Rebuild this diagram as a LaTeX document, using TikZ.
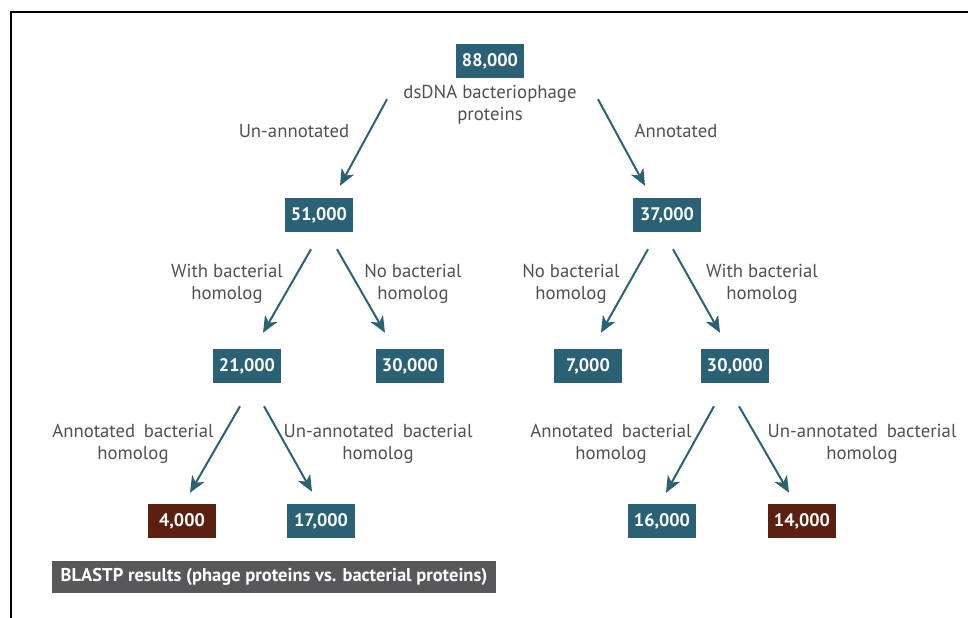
\documentclass[tikz,border=0pt]{standalone}
\usepackage{fontspec}
\setmainfont{PT Sans}
\usetikzlibrary{arrows.meta,calc}
\definecolor{teal}{HTML}{2B6174}
\definecolor{rust}{HTML}{5B200F}
\definecolor{slate}{HTML}{58585A}
\definecolor{ink}{HTML}{505052}
\newcommand{\gap}{\hspace{0.2em}}
\begin{document}
\begin{tikzpicture}[
  x=0.3mm, y=-0.3mm,
  font=\fontsize{16}{18.7}\selectfont,
  num/.style={fill=teal,text=white,minimum width=20.4mm,minimum height=10.2mm,
    inner sep=0pt,font=\fontsize{15.5}{18}\selectfont\bfseries},
  numred/.style={num,fill=rust},
  lbl/.style={text=ink,align=center,inner sep=0pt},
  legend/.style={fill=slate,text=white,minimum width=133.2mm,minimum height=9.6mm,
    inner sep=0pt,font=\fontsize{15.8}{18}\selectfont\bfseries},
  arr/.style={draw=teal,line width=1.7pt,
    -{Stealth[length=14pt,width=12pt,inset=4pt]}}]
\useasboundingbox (0,0) rectangle (968,618);
\draw[line width=0.9pt] (968,12) -- (11,12) -- (11,618);

\node[num] (n88) at (490,61) {88,000};
\node[lbl] (dsdna) at (490,105) {dsDNA bacteriophage\\proteins};

\node[num] (n51) at (319,215) {51,000};
\node[num] (n37) at (667,215) {37,000};

\node[num] (n21) at (247,366) {21,000};
\node[num] (n30a) at (410,366) {30,000};
\node[num] (n7) at (588,366) {7,000};
\node[num] (n30b) at (735,366) {30,000};

\node[numred] (n4) at (182,521) {4,000};
\node[num] (n17) at (321,521) {17,000};
\node[num] (n16) at (662,521) {16,000};
\node[numred] (n14) at (802,521) {14,000};

\node[lbl] (unann) at (294,131) {Un-annotated};
\node[lbl] (ann) at (676,131) {Annotated};
\node[lbl] (withl) at (227,284) {With bacterial\\homolog};
\node[lbl] (nol) at (413,284) {No bacterial\\homolog};
\node[lbl] (nor) at (571,284) {No bacterial\\homolog};
\node[lbl] (withr) at (762,284) {With bacterial\\homolog};
\node[lbl] (annl) at (133,444) {Annotated\gap{} bacterial\\homolog};
\node[lbl] (unannl) at (378,444) {Un-annotated\gap{} bacterial\\homolog};
\node[lbl] (annr) at (611,444) {Annotated\gap{} bacterial\\homolog};
\node[lbl] (unannr) at (862,444) {Un-annotated\gap{} bacterial\\homolog};

\node[legend] (key) at (274,577) {BLASTP results (phage proteins vs. bacterial proteins)};

\draw[arr] ($(n88.south)+(-103,21)$) -- ($(n51.north)+(21,-12)$);
\draw[arr] ($(n88.south)+(108,21)$) -- ($(n37.north)+(-22,-12)$);
\draw[arr] ($(n51.south)+(-8,17)$) -- ($(n21.north)+(16,-16)$);
\draw[arr] ($(n51.south)+(18,17)$) -- ($(n30a.north)+(-25,-16)$);
\draw[arr] ($(n37.south)+(-19,17)$) -- ($(n7.north)+(13,-16)$);
\draw[arr] ($(n37.south)+(6,17)$) -- ($(n30b.north)+(-15,-16)$);
\draw[arr] ($(n21.south)+(-7,23)$) -- ($(n4.north)+(8,-11)$);
\draw[arr] ($(n21.south)+(17,23)$) -- ($(n17.north)+(-9,-12)$);
\draw[arr] ($(n30b.south)+(-21,23)$) -- ($(n16.north)+(4,-11)$);
\draw[arr] ($(n30b.south)+(4,23)$) -- ($(n14.north)+(-13,-11)$);
\end{tikzpicture}
\end{document}
